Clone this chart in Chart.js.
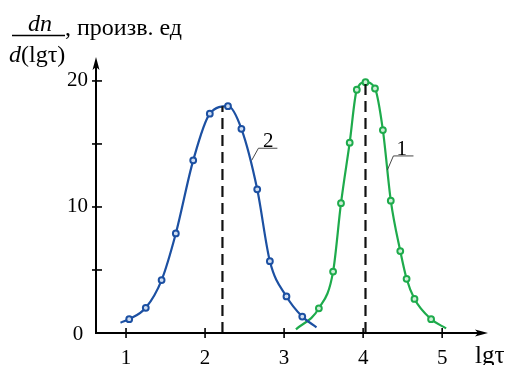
<!DOCTYPE html>
<html><head><meta charset="utf-8">
<script src="https://cdn.jsdelivr.net/npm/chart.js@4"></script>
<style>html,body{margin:0;padding:0;background:#fff}canvas{display:block}</style>
</head><body>
<canvas id="c" width="509" height="365"></canvas>
<script>
// ---- data ----
const xTicks = [1, 2, 3, 4, 5];
const yTicks = [5, 10, 15, 20];
const yTickLabels = ['', '10', '', '20'];
const curve2X = [1.04, 1.25, 1.45, 1.63, 1.85, 2.06, 2.29, 2.46, 2.66, 2.82, 3.03, 3.23];
const curve2Y = [1.1, 2.0, 4.2, 7.9, 13.7, 17.4, 18.0, 16.2, 11.4, 5.7, 2.9, 1.3];
const curve2EndsX = [0.93, 3.41];
const curve2EndsY = [0.82, 0.45];
const curve1X = [3.44, 3.62, 3.72, 3.83, 3.92, 4.03, 4.15, 4.25, 4.35, 4.47, 4.55, 4.65, 4.86];
const curve1Y = [1.96, 4.87, 10.3, 15.1, 19.3, 19.9, 19.4, 16.1, 10.5, 6.5, 4.3, 2.7, 1.1];
const curve1EndsX = [3.15, 5.05];
const curve1EndsY = [0.29, 0.37];
const peakX = [2.22, 4.03];
const peakY = [18.0, 19.9];
const curveNames = ['2', '1'];

const BLUE = '#1c50a2', GREEN = '#1eab4c';
const SERIF = '"Liberation Serif", "Times New Roman", serif';

function buildCurve(xs, ys, ex, ey) {
  const pts = [{x: ex[0], y: ey[0]}];
  xs.forEach((x, i) => pts.push({x, y: ys[i]}));
  pts.push({x: ex[1], y: ey[1]});
  return pts;
}
function radii(n) { const r = []; for (let i = 0; i < n + 2; i++) r.push(i === 0 || i === n + 1 ? 0 : 2.9); return r; }

const datasets = [
  {data: [{x: peakX[0], y: 0}, {x: peakX[0], y: peakY[0]}], borderColor: '#111', borderWidth: 2.2, borderDash: [11, 6], pointRadius: 0, showLine: true},
  {data: [{x: peakX[1], y: 0}, {x: peakX[1], y: peakY[1]}], borderColor: '#111', borderWidth: 2.2, borderDash: [11, 6], pointRadius: 0, showLine: true},
  {data: buildCurve(curve2X, curve2Y, curve2EndsX, curve2EndsY), borderColor: BLUE, borderWidth: 2.2, showLine: true,
   cubicInterpolationMode: 'monotone', pointRadius: radii(curve2X.length), pointBorderColor: BLUE, pointBorderWidth: 2, pointBackgroundColor: 'rgba(225,235,250,0.9)'},
  {data: buildCurve(curve1X, curve1Y, curve1EndsX, curve1EndsY), borderColor: GREEN, borderWidth: 2.2, showLine: true,
   cubicInterpolationMode: 'monotone', pointRadius: radii(curve1X.length), pointBorderColor: GREEN, pointBorderWidth: 2, pointBackgroundColor: 'rgba(225,245,230,0.9)'}
];

const decor = {
  id: 'decor',
  afterDraw(chart) {
    const ctx = chart.ctx, xs = chart.scales.x, ys = chart.scales.y;
    const X = v => xs.getPixelForValue(v), Y = v => ys.getPixelForValue(v);
    const ox = X(xs.min), oy = Y(0);
    ctx.save();
    ctx.strokeStyle = '#000'; ctx.fillStyle = '#000'; ctx.lineWidth = 2;
    // axes
    const yTop = Y(ys.max), xEnd = X(xs.max);
    ctx.beginPath(); ctx.moveTo(ox, oy); ctx.lineTo(ox, yTop + 4); ctx.stroke();
    ctx.beginPath(); ctx.moveTo(ox - 1, oy); ctx.lineTo(xEnd - 4, oy); ctx.stroke();
    // arrows
    ctx.beginPath(); ctx.moveTo(ox, yTop); ctx.lineTo(ox - 3.5, yTop + 13); ctx.lineTo(ox, yTop + 10); ctx.lineTo(ox + 3.5, yTop + 13); ctx.closePath(); ctx.fill();
    ctx.beginPath(); ctx.moveTo(xEnd, oy); ctx.lineTo(xEnd - 13, oy - 3.5); ctx.lineTo(xEnd - 10, oy); ctx.lineTo(xEnd - 13, oy + 3.5); ctx.closePath(); ctx.fill();
    // ticks
    ctx.lineWidth = 1.6;
    yTicks.forEach(v => { ctx.beginPath(); ctx.moveTo(ox - 4, Y(v)); ctx.lineTo(ox + 6, Y(v)); ctx.stroke(); });
    xTicks.forEach(v => { ctx.beginPath(); ctx.moveTo(X(v), oy - 5); ctx.lineTo(X(v), oy + 5); ctx.stroke(); });
    // tick labels
    ctx.font = '21px ' + SERIF; ctx.textBaseline = 'middle'; ctx.textAlign = 'left';
    yTicks.forEach((v, i) => { if (yTickLabels[i]) ctx.fillText(yTickLabels[i], ox - 29, Y(v)); });
    ctx.textAlign = 'center'; ctx.fillText('0', ox - 18, oy + 1);
    ctx.textBaseline = 'alphabetic';
    xTicks.forEach(v => ctx.fillText(String(v), X(v), oy + 31));
    ctx.font = '25px ' + SERIF; ctx.textAlign = 'left';
    ctx.fillText('lgτ', xEnd - 13, oy + 30);
    // y title (fraction)
    ctx.font = 'italic 24px ' + SERIF; ctx.textAlign = 'center';
    ctx.fillText('dn', 40, 31);
    ctx.lineWidth = 1.5; ctx.beginPath(); ctx.moveTo(12, 35.5); ctx.lineTo(65, 35.5); ctx.stroke();
    ctx.textAlign = 'left';
    ctx.fillText('d', 9, 62);
    const dw = ctx.measureText('d').width;
    ctx.font = '24px ' + SERIF;
    ctx.fillText('(lgτ)', 9 + dw, 62);
    ctx.fillText(', произв. ед', 65, 35);
    // curve labels with leaders
    const lab = [
      {name: curveNames[0], lx: [2.59, 2.675, 2.915], ly: [13.7, 14.66, 14.66], tx: 2.80, ty: 14.76},
      {name: curveNames[1], lx: [4.307, 4.383, 4.637], ly: [12.94, 14.05, 14.05], tx: 4.49, ty: 14.13}
    ];
    ctx.lineWidth = 0.9; ctx.strokeStyle = '#333';
    lab.forEach(l => {
      ctx.beginPath(); ctx.moveTo(X(l.lx[0]), Y(l.ly[0]));
      for (let i = 1; i < 3; i++) ctx.lineTo(X(l.lx[i]), Y(l.ly[i]));
      ctx.stroke();
      ctx.font = '21px ' + SERIF; ctx.textAlign = 'center'; ctx.textBaseline = 'alphabetic';
      ctx.fillText(l.name, X(l.tx), Y(l.ty));
    });
    ctx.restore();
  }
};

new Chart(document.getElementById('c'), {
  type: 'scatter',
  data: {datasets},
  options: {
    responsive: false, animation: false, devicePixelRatio: 1,
    layout: {padding: {left: 96, right: 21, top: 57, bottom: 32}},
    plugins: {legend: {display: false}, tooltip: {enabled: false}},
    scales: {
      x: {type: 'linear', min: 0.62, max: 5.58, display: false},
      y: {type: 'linear', min: 0, max: 21.9, display: false}
    }
  },
  plugins: [decor]
});
</script>
</body></html>
